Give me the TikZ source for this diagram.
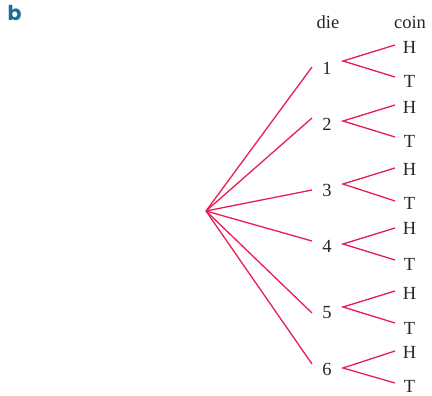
\documentclass[tikz,border=0pt]{standalone}
\usepackage{fontspec}
\setmainfont{Liberation Serif}
\newfontfamily\labelfont{Poppins}
\definecolor{branch}{RGB}{232,30,82}
\definecolor{partblue}{RGB}{28,108,150}
\begin{document}
\begin{tikzpicture}[x=1pt,y=-1pt,
  lbl/.style={inner sep=0pt,font=\fontsize{18.5}{20}\selectfont,text=black!85},
  br/.style={draw=branch,line width=1.3pt}]
\useasboundingbox (0,0) rectangle (432,396);
\node[inner sep=0pt,text=partblue,font=\labelfont\bfseries\fontsize{20.5}{22}\selectfont] (part) at (14.5,12.5) {b};
\node[lbl] (hdie) at (328,22) {die};
\node[lbl] (hcoin) at (410,22) {coin};
\coordinate (root) at (206,211);
% die nodes: label y, line end y, branch start y, H y, T y
\foreach \i/\ly/\ey/\sy/\hy/\ty/\hl/\tl in {
  1/68/67/61/45/77/47/81,
  2/124/118/121/105/137/107/141,
  3/190/190/184/168/201/169/203,
  4/246/241/244/228/260/228/264,
  5/313/313/307/291/323/293/328,
  6/369/364/368/351/383/352/386}{
  \node[lbl] (d\i) at (327,\ly) {\i};
  \coordinate (e\i) at (312,\ey);
  \coordinate (s\i) at (343,\sy);
  \coordinate (eh\i) at (395,\hy);
  \coordinate (et\i) at (395,\ty);
  \node[lbl] (h\i) at (409.5,\hl) {H};
  \node[lbl] (t\i) at (409.5,\tl) {T};
  \draw[br] (root) -- (e\i);
  \draw[br] (eh\i) -- (s\i) -- (et\i);
}
\end{tikzpicture}
\end{document}
